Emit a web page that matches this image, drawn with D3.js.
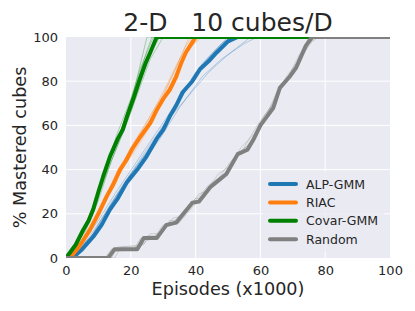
<!DOCTYPE html>
<html>
<head>
<meta charset="utf-8">
<script src="https://cdn.jsdelivr.net/npm/d3@7"></script>
<style>
  html, body { margin: 0; padding: 0; background: #fff; }
  svg { display: block; font-family: "DejaVu Sans", sans-serif; }
</style>
</head>
<body>
<svg id="chart" width="415" height="311"></svg>
<script>
// chart values, as [episodes (x1000), % mastered]
const xTicks = [0, 20, 40, 60, 80, 100];
const yTicks = [0, 20, 40, 60, 80, 100];
const methods = ['ALP-GMM', 'RIAC', 'Covar-GMM', 'Random'];
const colors = ['#1f77b4', '#ff7f0e', '#008000', '#808080'];

const alpMean = [[0,0],[2,0],[5,4],[8.4,9.6],[11,15],[13.6,22],[16,27],[18.7,34],[22,40],[24.9,46],[28,54],[30,58],[32,64],[34,69],[36,75],[39,80],[41.4,85.5],[44,89],[46.5,93],[50,98],[53,100],[100,100]];
const riacMean = [[0,0],[1.2,0],[4,5],[7.4,12.7],[10,20],[12.6,28],[14.5,33],[16.7,40],[18.5,44],[20.3,49],[23,55],[26,61],[28,67],[30,72],[32,76],[34,82],[35.5,88],[37,93],[40,100],[100,100]];
const covarMean = [[0,0],[3,6],[5.3,12.7],[7,17],[8.4,22],[10,30],[11.5,37],[13.6,46],[16,54],[17.5,58],[18.8,64],[21,73],[22.8,81],[24.5,88],[26,93],[28,100],[100,100]];
const randomMean = [[0,0],[13,0],[15,4],[22,4],[24,9],[28,9],[31,15],[34,16],[39,25],[41,25.5],[44.5,32],[47,35],[49.5,38],[53,47],[56,49],[58,54],[60,60],[62,64],[64,68],[66,77],[69,82],[71,86],[74,96],[76,100],[100,100]];

// individual seeds (faint lines)
const alpRuns = [
  [[0,0],[6,6],[12,18],[18,32],[24,45],[30,58],[36,74],[42,88],[48,97],[51,100],[100,100]],
  [[0,0],[7,8],[13,22],[20,38],[26,50],[32,64],[38,78],[44,90],[50,99],[54,100],[100,100]],
  [[0,0],[5,4],[11,16],[17,30],[23,42],[29,54],[35,68],[42,82],[48,90],[55,97],[59,100],[100,100]],
  [[0,0],[8,10],[14,25],[19,36],[25,48],[31,62],[37,76],[43,89],[49,98],[52,100],[100,100]],
  [[0,0],[6,7],[12,20],[18,34],[24,47],[30,60],[37,72],[44,84],[50,92],[57,100],[100,100]],
  [[0,0],[4,5],[10,17],[16,31],[22,44],[28,57],[34,70],[40,84],[46,94],[50,100],[100,100]]
];
const riacRuns = [
  [[0,0],[5,8],[10,22],[15,36],[20,50],[25,62],[30,74],[34,86],[38,100],[100,100]],
  [[0,0],[6,9],[11,22],[16,37],[21,48],[27,62],[31,75],[36,90],[41,100],[100,100]],
  [[0,0],[4,6],[9,18],[14,33],[19,46],[24,58],[29,70],[33,83],[37,96],[39,100],[100,100]],
  [[0,0],[7,12],[12,25],[18,42],[22,52],[28,66],[33,80],[38,95],[42,100],[100,100]],
  [[0,0],[5,7],[10,20],[16,40],[20,49],[26,64],[31,78],[35,90],[40,100],[100,100]]
];
const covarRuns = [
  [[0,0],[4,8],[8,20],[12,38],[15,50],[19,66],[22,80],[25,94],[26.5,100],[100,100]],
  [[0,0],[5,10],[9,24],[13,40],[17,55],[20,66],[24,84],[27,95],[29,100],[100,100]],
  [[0,0],[3,5],[7,18],[11,34],[14,47],[18,62],[21,76],[23,88],[25,100],[100,100]],
  [[0,0],[6,12],[10,26],[14,44],[18,58],[22,74],[26,90],[30,100],[100,100]],
  [[0,0],[4,9],[9,25],[12,40],[16,57],[20,72],[23,86],[27,100],[100,100]]
];
const randomRuns = [
  [[0,0],[12,0],[14,4],[21,4],[23,9],[27,9],[30,15],[33,16],[38,24],[40,26],[44,33],[47,36],[51,44],[55,50],[59,60],[63,68],[66,76],[70,84],[73,94],[75,100],[100,100]],
  [[0,0],[14,0],[16,5],[23,5],[25,10],[29,10],[32,17],[35,17],[40,27],[42,27],[46,35],[49,38],[53,47],[57,52],[61,62],[64,69],[67,79],[71,86],[75,97],[77,100],[100,100]],
  [[0,0],[13,0],[15,3],[22,4],[25,8],[28,9],[31,14],[35,16],[39,23],[41,26],[45,32],[48,36],[52,45],[56,51],[60,59],[62,65],[65,75],[69,83],[72,92],[76,100],[100,100]],
  [[0,0],[15,0],[17,5],[24,6],[26,11],[29,11],[33,18],[36,19],[41,29],[43,30],[47,38],[50,41],[54,50],[58,56],[61,64],[65,72],[68,82],[72,90],[76,98],[78,100],[100,100]]
];

const means = [alpMean, riacMean, covarMean, randomMean];
const runs = [alpRuns, riacRuns, covarRuns, randomRuns];

const svg = d3.select('#chart');
const margin = { left: 66, right: 25, top: 37, bottom: 53 };
const W = 415, H = 311;
const x = d3.scaleLinear().domain([0, 100]).range([margin.left, W - margin.right]);
const y = d3.scaleLinear().domain([0, 100]).range([H - margin.bottom, margin.top]);
const textCol = '#262626';

// background
svg.append('rect')
  .attr('x', x(0)).attr('y', y(100))
  .attr('width', x(100) - x(0)).attr('height', y(0) - y(100))
  .attr('fill', '#EAEAF2');

svg.append('clipPath').attr('id', 'plotClip')
  .append('rect')
  .attr('x', x(0)).attr('y', y(100))
  .attr('width', x(100) - x(0)).attr('height', y(0) - y(100));

// grid
const gridG = svg.append('g').attr('class', 'grid');
gridG.selectAll('line.gx')
  .data(xTicks.slice(1, -1))
  .join('line')
  .attr('x1', d => x(d)).attr('x2', d => x(d))
  .attr('y1', y(0)).attr('y2', y(100))
  .attr('stroke', '#fff').attr('stroke-width', 1);
gridG.selectAll('line.gy')
  .data(yTicks.slice(1, -1))
  .join('line')
  .attr('y1', d => y(d)).attr('y2', d => y(d))
  .attr('x1', x(0)).attr('x2', x(100))
  .attr('stroke', '#fff').attr('stroke-width', 1);

// axes (no domain, no tick marks)
const xAxis = svg.append('g')
  .attr('transform', `translate(0,${y(0)})`)
  .call(d3.axisBottom(x).tickValues(xTicks).tickSize(0).tickPadding(8));
const yAxis = svg.append('g')
  .attr('transform', `translate(${x(0)},0)`)
  .call(d3.axisLeft(y).tickValues(yTicks).tickSize(0).tickPadding(8));
[xAxis, yAxis].forEach(a => {
  a.select('.domain').remove();
  a.selectAll('text')
    .attr('fill', textCol)
    .style('font-size', '13px')
    .style('font-family', '"DejaVu Sans", sans-serif');
});

// lines
const line = d3.line().x(d => x(d[0])).y(d => y(d[1]));
const linesG = svg.append('g').attr('clip-path', 'url(#plotClip)');
methods.forEach((m, i) => {
  linesG.append('g')
    .selectAll('path')
    .data(runs[i])
    .join('path')
    .attr('d', line)
    .attr('fill', 'none')
    .attr('stroke', colors[i])
    .attr('stroke-width', 1)
    .attr('stroke-opacity', 0.3);
  linesG.append('path')
    .datum(means[i])
    .attr('d', line)
    .attr('fill', 'none')
    .attr('stroke', colors[i])
    .attr('stroke-width', 4)
    .attr('stroke-linejoin', 'round')
    .attr('stroke-linecap', 'square');
});

// legend
const legG = svg.append('g').attr('class', 'legend');
legG.append('rect')
  .attr('x', 263).attr('y', 171)
  .attr('width', 121).attr('height', 81)
  .attr('rx', 3)
  .attr('fill', '#EAEAF2').attr('fill-opacity', 0.8);
const legItems = legG.selectAll('g.item')
  .data(methods)
  .join('g')
  .attr('class', 'item')
  .attr('transform', (d, i) => `translate(270,${184 + i * 18.4})`);
legItems.append('line')
  .attr('x1', 0).attr('x2', 26)
  .attr('stroke', (d, i) => colors[i])
  .attr('stroke-width', 4)
  .attr('stroke-linecap', 'round');
legItems.append('text')
  .attr('x', 36).attr('y', 4.5)
  .attr('fill', textCol)
  .style('font-size', '12.5px')
  .text(d => d);

// titles
svg.append('text')
  .attr('x', (x(0) + x(100)) / 2).attr('y', 31)
  .attr('text-anchor', 'middle')
  .attr('fill', textCol)
  .style('font-size', '25px')
  .style('white-space', 'pre')
  .text('2-D   10 cubes/D');
svg.append('text')
  .attr('x', (x(0) + x(100)) / 2).attr('y', 295)
  .attr('text-anchor', 'middle')
  .attr('fill', textCol)
  .style('font-size', '17.6px')
  .text('Episodes (x1000)');
svg.append('text')
  .attr('transform', `translate(26,${(y(0) + y(100)) / 2}) rotate(-90)`)
  .attr('text-anchor', 'middle')
  .attr('fill', textCol)
  .style('font-size', '17.6px')
  .text('% Mastered cubes');
</script>
</body>
</html>
